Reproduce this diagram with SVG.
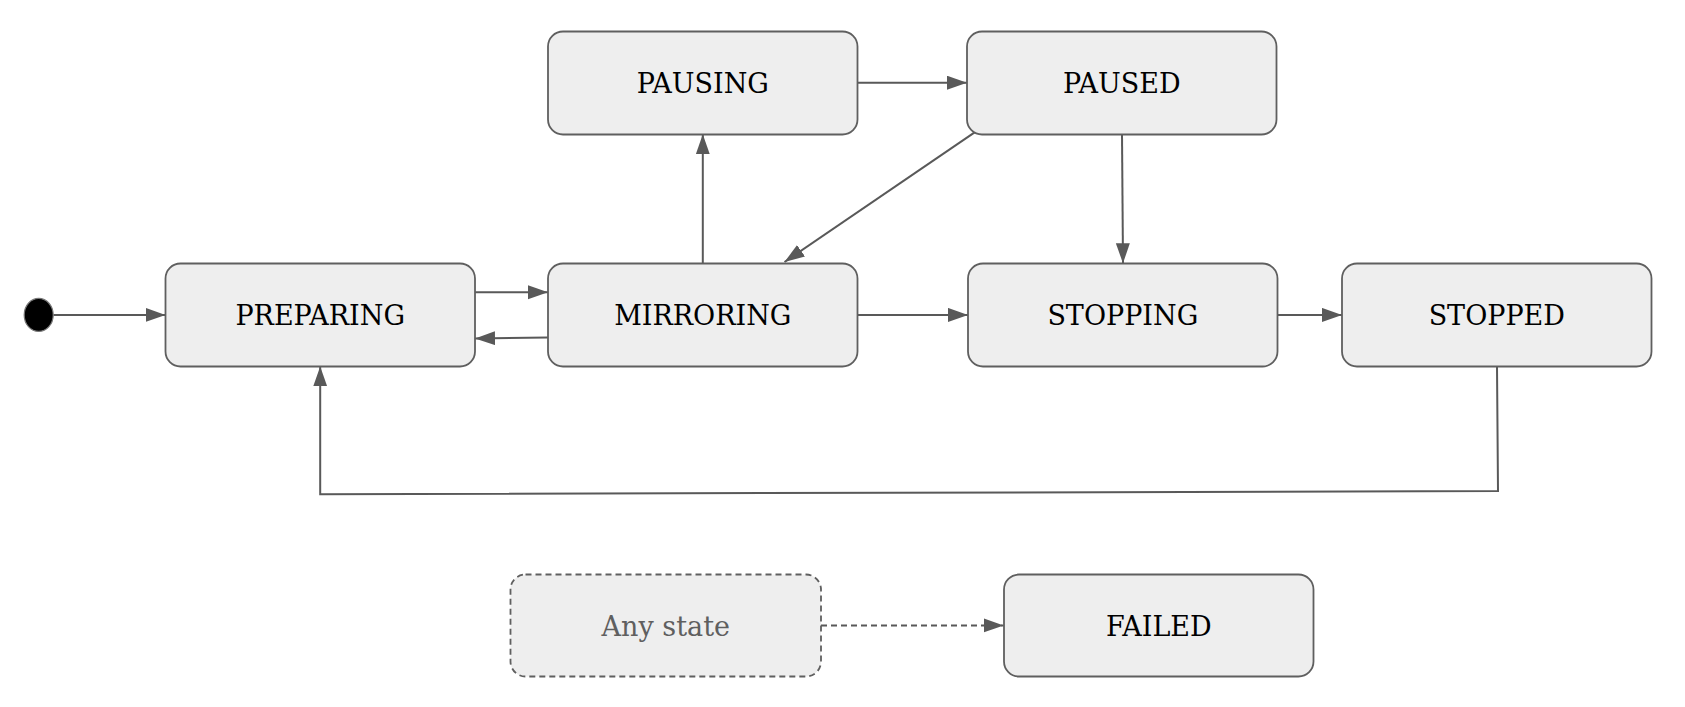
<svg xmlns="http://www.w3.org/2000/svg" width="1685" height="707" viewBox="0 0 1685 707">
<style>
.box{fill:#eeeeee;stroke:#5f5f5f;stroke-width:1.8}
.dash{stroke-dasharray:6 4}
.lbl{font-family:"DejaVu Serif","Liberation Serif",serif;font-size:27px;fill:#000;text-anchor:middle}
.grey{fill:#5f5f5f}
.edge{fill:none;stroke:#595959;stroke-width:2}
</style>
<defs>
<marker id="arr" markerUnits="userSpaceOnUse" markerWidth="21" markerHeight="15" refX="20" refY="7" orient="auto">
<path d="M0,0 L20,7 L0,14 z" fill="#595959"/>
</marker>
</defs>
<rect width="1685" height="707" fill="#ffffff"/>
<g id="connectors">
<path class="edge" d="M53.5,314.9 L165.5,314.9" marker-end="url(#arr)"/>
<path class="edge" d="M475,292.3 L548,292.3" marker-end="url(#arr)"/>
<path class="edge" d="M548,337.4 L475,338.4" marker-end="url(#arr)"/>
<path class="edge" d="M702.8,263.3 L702.8,134.3" marker-end="url(#arr)"/>
<path class="edge" d="M857.5,82.7 L967,82.7" marker-end="url(#arr)"/>
<path class="edge" d="M975,132.2 L784.5,262" marker-end="url(#arr)"/>
<path class="edge" d="M1122,134.3 L1123,263.3" marker-end="url(#arr)"/>
<path class="edge" d="M857.5,314.9 L968,314.9" marker-end="url(#arr)"/>
<path class="edge" d="M1277.7,314.9 L1342,314.9" marker-end="url(#arr)"/>
<path class="edge" d="M1497,366.4 L1498,491.1 L320.2,494.3 L320.2,366.4" marker-end="url(#arr)"/>
<path class="edge dash" d="M821,625.4 L1003.7,625.4" marker-end="url(#arr)"/>
</g>
<g id="start">
<ellipse cx="38.7" cy="314.9" rx="14.5" ry="16.5" fill="#000" stroke="#777777" stroke-width="1.2"/>
</g>
<g id="preparing">
<rect class="box" x="165.5" y="263.5" width="309.5" height="103" rx="15"/>
<text class="lbl" x="320.2" y="325">PREPARING</text>
</g>
<g id="mirroring">
<rect class="box" x="548" y="263.5" width="309.5" height="103" rx="15"/>
<text class="lbl" x="702.8" y="325">MIRRORING</text>
</g>
<g id="stopping">
<rect class="box" x="968" y="263.5" width="309.5" height="103" rx="15"/>
<text class="lbl" x="1122.8" y="325">STOPPING</text>
</g>
<g id="stopped">
<rect class="box" x="1342" y="263.5" width="309.5" height="103" rx="15"/>
<text class="lbl" x="1496.8" y="325">STOPPED</text>
</g>
<g id="pausing">
<rect class="box" x="548" y="31.5" width="309.5" height="103" rx="15"/>
<text class="lbl" x="702.8" y="93">PAUSING</text>
</g>
<g id="paused">
<rect class="box" x="967" y="31.5" width="309.5" height="103" rx="15"/>
<text class="lbl" x="1121.8" y="93">PAUSED</text>
</g>
<g id="anystate">
<rect class="box dash" x="510.5" y="574.5" width="310.5" height="102" rx="15"/>
<text class="lbl grey" x="665.8" y="635.5">Any state</text>
</g>
<g id="failed">
<rect class="box" x="1004" y="574.5" width="309.5" height="102" rx="15"/>
<text class="lbl" x="1158.8" y="635.5">FAILED</text>
</g>
</svg>
